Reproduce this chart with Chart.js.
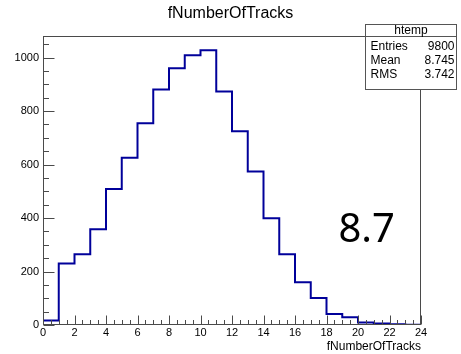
<!DOCTYPE html>
<html><head><meta charset="utf-8">
<style>html,body{margin:0;padding:0;background:#fff;overflow:hidden}#wrap{width:461px;height:354px}</style>
<script src="https://cdn.jsdelivr.net/npm/chart.js@4.4.1/dist/chart.umd.min.js"></script>
</head><body><div id="wrap"><canvas id="c" width="461" height="354"></canvas></div>
<script>
// ---- data ----
const binLowEdges = [0,1,2,3,4,5,6,7,8,9,10,11,12,13,14,15,16,17,18,19,20,21,22,23];
const binCounts   = [17,230,265,358,509,625,754,881,960,1009,1027,873,725,574,399,265,160,101,41,29,9,6,3,1];
const xRange = [0, 24];
const yRange = [0, 1080];
const xMajorStep = 2, xMinorStep = 0.5;
const yMajorStep = 200, yMinorStep = 50;
const titleText = 'fNumberOfTracks';
const xTitleText = 'fNumberOfTracks';
const statsName = 'htemp';
const statsLabels = ['Entries', 'Mean', 'RMS'];
const statsValues = ['9800', '8.745', '3.742'];
const annotationText = '8.7';
const annotationPos = [20.55, 311];

// build step points
const stepPoints = binLowEdges.map((x, i) => ({x: x, y: binCounts[i]}));
stepPoints.push({x: xRange[1], y: binCounts[binCounts.length - 1]});

const FONT = '"Liberation Sans", Arial, Helvetica, sans-serif';
Chart.defaults.font.family = FONT;

const rootPlugin = {
  id: 'rootStyle',
  afterDatasetsDraw(chart) {
    const {ctx, chartArea: a, scales: {x, y}} = chart;
    ctx.save();
    ctx.strokeStyle = '#4a4a4a';
    ctx.lineWidth = 1;
    const L = Math.round(a.left) + 0.5, R = Math.round(a.right) - 0.5;
    const T = Math.round(a.top) + 0.5, B = Math.round(a.bottom) - 0.5;
    ctx.strokeRect(L, T, R - L, B - T);
    ctx.beginPath();
    for (let v = xRange[0]; v <= xRange[1] + 1e-9; v += xMinorStep) {
      const px = Math.round(x.getPixelForValue(v)) + 0.5;
      const len = (Math.abs(v % xMajorStep) < 1e-9) ? 9 : 4.5;
      ctx.moveTo(px, B); ctx.lineTo(px, B - len);
    }
    for (let v = yRange[0]; v <= yRange[1] + 1e-9; v += yMinorStep) {
      const py = Math.round(y.getPixelForValue(v)) + 0.5;
      const len = (Math.abs(v % yMajorStep) < 1e-9) ? 11 : 5.5;
      ctx.moveTo(L, py); ctx.lineTo(L + len, py);
    }
    ctx.stroke();
    // annotation
    ctx.fillStyle = '#000';
    ctx.font = '40px "Noto Sans", "Open Sans", sans-serif';
    ctx.textAlign = 'center';
    ctx.textBaseline = 'alphabetic';
    ctx.fillText(annotationText, x.getPixelForValue(annotationPos[0]), y.getPixelForValue(annotationPos[1]));
    ctx.restore();
  },
  afterDraw(chart) {
    const {ctx} = chart;
    ctx.save();
    const bx = 365.5, by = 24.5, bw = 91, bh = 65;
    ctx.fillStyle = '#fff';
    ctx.fillRect(bx, by, bw, bh);
    ctx.strokeStyle = '#555';
    ctx.lineWidth = 1;
    ctx.strokeRect(bx, by, bw, bh);
    ctx.beginPath(); ctx.moveTo(bx, 36.5); ctx.lineTo(bx + bw, 36.5); ctx.stroke();
    ctx.fillStyle = '#000';
    ctx.font = '12px ' + FONT;
    ctx.textBaseline = 'middle';
    ctx.textAlign = 'center';
    ctx.fillText(statsName, bx + bw / 2, 30.8);
    const rows = [46.7, 60.3, 74.2];
    statsLabels.forEach((lab, i) => {
      ctx.textAlign = 'left';
      ctx.fillText(lab, 370.5, rows[i]);
      ctx.textAlign = 'right';
      ctx.fillText(statsValues[i], 454.5, rows[i]);
    });
    ctx.restore();
  }
};

new Chart(document.getElementById('c'), {
  type: 'line',
  data: {
    datasets: [{
      data: stepPoints,
      stepped: 'before',
      borderColor: '#00009a',
      borderWidth: 2,
      pointRadius: 0,
      fill: false,
      tension: 0
    }]
  },
  options: {
    responsive: false,
    animation: false,
    devicePixelRatio: 1,
    layout: {padding: {left: 0, right: 0, top: 0, bottom: 0}},
    plugins: {
      legend: {display: false},
      tooltip: {enabled: false},
      title: {
        display: true, text: titleText, color: '#000',
        font: {size: 16, weight: 'normal', family: FONT},
        padding: {top: 4, bottom: 13}
      }
    },
    scales: {
      x: {
        type: 'linear', min: xRange[0], max: xRange[1],
        grid: {display: false, drawTicks: false},
        border: {display: false},
        ticks: {stepSize: xMajorStep, includeBounds: false, autoSkip: false, maxRotation: 0,
                color: '#000', font: {size: 11}, padding: 1, callback: v => String(v)},
        title: {display: true, text: xTitleText, align: 'end', color: '#000',
                font: {size: 12, family: FONT}, padding: 0},
        afterFit: s => { s.height = 29; }
      },
      y: {
        type: 'linear', min: yRange[0], max: yRange[1],
        grid: {display: false, drawTicks: false},
        border: {display: false},
        ticks: {stepSize: yMajorStep, includeBounds: false, color: '#000', font: {size: 11}, padding: 4,
                callback: v => String(v)},
        afterFit: s => { s.width = 43; }
      },
      yRight: {
        type: 'linear', position: 'right', display: true,
        grid: {display: false, drawTicks: false},
        border: {display: false},
        ticks: {display: false},
        afterFit: s => { s.width = 40; }
      }
    }
  },
  plugins: [rootPlugin]
});
</script>
</body></html>
